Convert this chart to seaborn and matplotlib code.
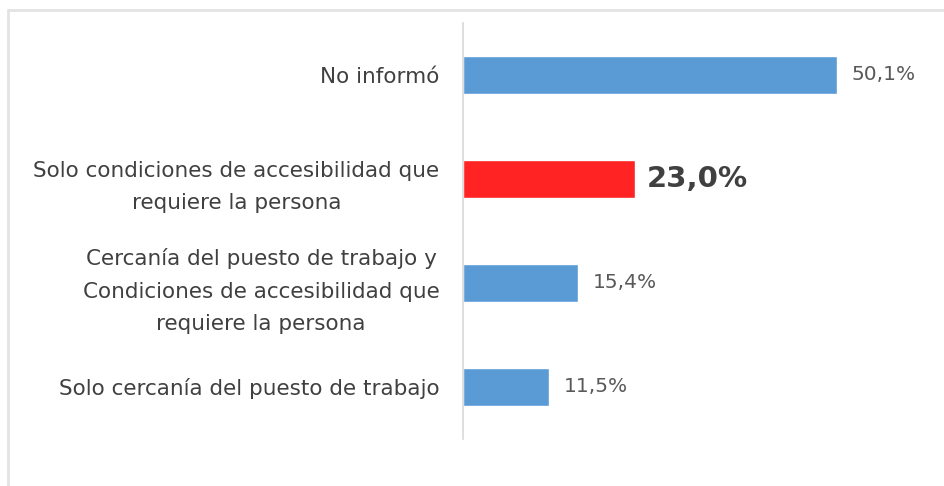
import matplotlib.pyplot as plt
import seaborn as sns
import pandas as pd
from matplotlib.lines import Line2D

categorias = [
    'No informó',
    'Solo condiciones de accesibilidad que\nrequiere la persona',
    'Cercanía del puesto de trabajo y\nCondiciones de accesibilidad que\nrequiere la persona',
    'Solo cercanía del puesto de trabajo',
]
valores = [50.1, 23.0, 15.4, 11.5]
etiquetas = ['50,1%', '23,0%', '15,4%', '11,5%']
destacado = [False, True, False, False]

azul = '#5B9BD5'
rojo = '#FF2323'
gris_texto = '#404040'

df = pd.DataFrame({'categoria': categorias, 'valor': valores, 'destacado': destacado})

sns.set_style('white')
plt.rcParams['font.family'] = ['DejaVu Sans']

fig = plt.figure(figsize=(9.44, 4.86), dpi=100)
ax = fig.add_axes([0.4905, 0.097, 0.49, 0.856])

sns.barplot(data=df, y='categoria', x='valor', hue='destacado',
            palette={False: azul, True: rojo}, order=categorias,
            width=0.36, saturation=1, legend=False, ax=ax, orient='h')

ax.set_xlim(0, 62)
ax.set_xlabel('')
ax.set_ylabel('')
ax.set_xticks([])
for s in ['top', 'right', 'bottom']:
    ax.spines[s].set_visible(False)
ax.spines['left'].set_color('#D9D9D9')
ax.spines['left'].set_linewidth(1.2)

ax.tick_params(axis='y', length=0, pad=17)
for lbl in ax.get_yticklabels():
    lbl.set_fontsize(15.5)
    lbl.set_color(gris_texto)
    lbl.set_multialignment('center')
    lbl.set_linespacing(1.78)

for i, (v, t, d) in enumerate(zip(valores, etiquetas, destacado)):
    if d:
        ax.text(v + 1.6, i, t, va='center', ha='left', fontsize=21,
                fontweight='bold', color=gris_texto)
    else:
        ax.text(v + 2.0, i, t, va='center', ha='left', fontsize=14.5,
                color='#595959')

# borde del gráfico
fig.add_artist(Line2D([8 / 944, 8 / 944], [0, 1 - 10 / 486], transform=fig.transFigure,
                      color='#E3E3E3', linewidth=2))
fig.add_artist(Line2D([8 / 944, 1], [1 - 10 / 486, 1 - 10 / 486], transform=fig.transFigure,
                      color='#E3E3E3', linewidth=2))

plt.savefig('out.png', dpi=100)
